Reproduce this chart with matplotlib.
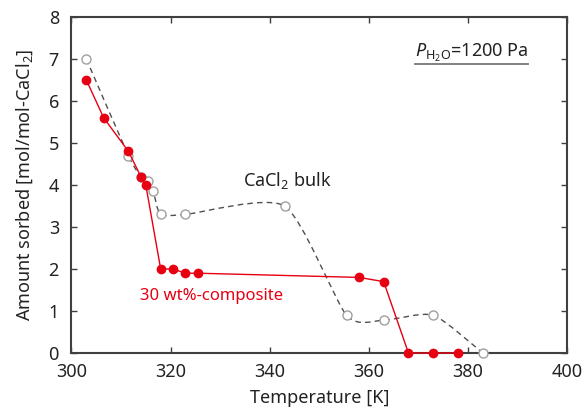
import matplotlib
matplotlib.use("Agg")
import matplotlib.pyplot as plt
from matplotlib.path import Path
from matplotlib.patches import PathPatch
from matplotlib.lines import Line2D
import numpy as np

plt.rcParams['font.family'] = ['Noto Sans', 'DejaVu Sans']
plt.rcParams['mathtext.fontset'] = 'custom'
plt.rcParams['mathtext.rm'] = 'Noto Sans'
plt.rcParams['mathtext.it'] = 'Noto Sans:italic'

# Data
bulk_T = [303, 311.5, 314, 315.5, 316.5, 318, 323, 343, 355.5, 363, 373, 383]
bulk_q = [7.0, 4.7, 4.2, 4.1, 3.85, 3.3, 3.3, 3.5, 0.9, 0.78, 0.9, 0.0]
comp_T = [303, 306.5, 311.5, 314, 315, 318, 320.5, 323, 325.5, 358, 363, 368, 373, 378]
comp_q = [6.5, 5.6, 4.8, 4.2, 4.0, 2.0, 2.0, 1.9, 1.9, 1.8, 1.7, 0.0, 0.0, 0.0]
x_ticks = [300, 320, 340, 360, 380, 400]
y_ticks = [0, 1, 2, 3, 4, 5, 6, 7, 8]

RED = '#e60012'
SPINE = '#404040'

fig = plt.figure(figsize=(5.83, 4.11), dpi=100)
ax = fig.add_axes([0.1226, 0.1411, 0.85, 0.8175])

# smooth dashed curve through bulk points (Bezier with reduced tension)
pts = np.column_stack([bulk_T, bulk_q]).astype(float)
verts = [tuple(pts[0])]
codes = [Path.MOVETO]
n = len(pts)
k = 1.0 / 9.0
for i in range(n - 1):
    p0 = pts[i - 1] if i > 0 else pts[i]
    p1 = pts[i]
    p2 = pts[i + 1]
    p3 = pts[i + 2] if i + 2 < n else pts[i + 1]
    c1 = p1 + (p2 - p0) * k
    c2 = p2 - (p3 - p1) * k
    verts += [tuple(c1), tuple(c2), tuple(p2)]
    codes += [Path.CURVE4] * 3
patch = PathPatch(Path(verts, codes), facecolor='none', edgecolor='#505050',
                  lw=1.0, linestyle=(0, (4, 3)), zorder=2)
ax.add_patch(patch)
ax.plot(bulk_T, bulk_q, linestyle='none', marker='o', ms=6.5, mfc='white',
        mec='#a0a0a0', mew=1.0, zorder=3, clip_on=False)

ax.plot(comp_T, comp_q, color=RED, lw=1.0, marker='o', ms=6, mfc=RED, mec=RED,
        zorder=4, clip_on=False)

ax.set_xlim(300, 400)
ax.set_ylim(0, 8)
ax.set_xticks(x_ticks)
ax.set_yticks(y_ticks)
ax.tick_params(direction='in', top=True, right=True, length=4, width=1.0,
               color=SPINE, labelsize=13, labelcolor='#222222')
ax.tick_params(axis='y', pad=9)
ax.tick_params(axis='x', pad=7)
for s in ax.spines.values():
    s.set_color(SPINE)
    s.set_linewidth(1.5)

ax.set_xlabel('Temperature [K]', fontsize=13, labelpad=6, color='#222222')
ax.set_ylabel(r'Amount sorbed [mol/mol-CaCl$_2$]', fontsize=13, labelpad=10,
              color='#222222')

ax.text(343.5, 4.1, r'CaCl$_2$ bulk', fontsize=13, ha='center', va='center',
        color='#222222')
ax.text(328.2, 1.36, '30 wt%-composite', fontsize=12, ha='center', va='center',
        color=RED)
ax.text(380.7, 7.15, r'$\mathit{P}_{\mathrm{H_2O}}$=1200 Pa', fontsize=13,
        ha='center', va='center', color='#222222')
ax.add_line(Line2D([369.4, 392.2], [6.88, 6.88], color='#777777', lw=1.3))

fig.savefig('out.png', dpi=100)
